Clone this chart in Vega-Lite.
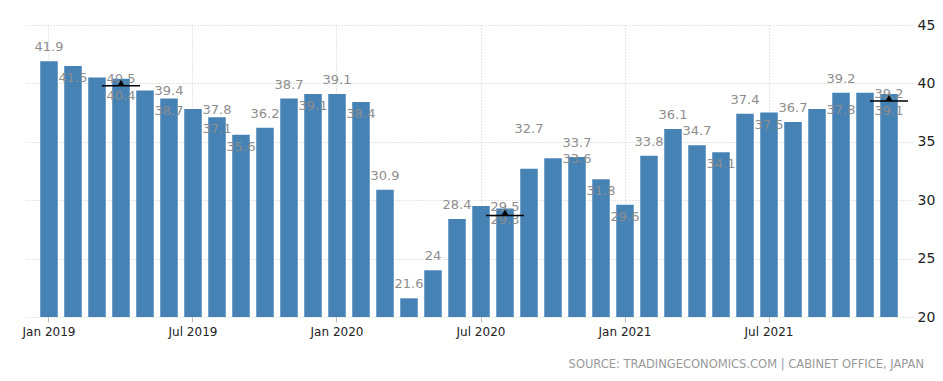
{
  "$schema": "https://vega.github.io/schema/vega-lite/v6.json",
  "width": 886,
  "height": 292,
  "padding": {"left": 22, "top": 18, "right": 0, "bottom": 0},
  "autosize": {"type": "pad"},
  "background": "white",
  "config": {"view": {"stroke": null}, "font": "DejaVu Sans"},
  "datasets": {
    "cc": [
      {"month": "2019-01", "value": 41.9}, {"month": "2019-02", "value": 41.5}, {"month": "2019-03", "value": 40.5},
      {"month": "2019-04", "value": 40.4}, {"month": "2019-05", "value": 39.4}, {"month": "2019-06", "value": 38.7},
      {"month": "2019-07", "value": 37.8}, {"month": "2019-08", "value": 37.1}, {"month": "2019-09", "value": 35.6},
      {"month": "2019-10", "value": 36.2}, {"month": "2019-11", "value": 38.7}, {"month": "2019-12", "value": 39.1},
      {"month": "2020-01", "value": 39.1}, {"month": "2020-02", "value": 38.4}, {"month": "2020-03", "value": 30.9},
      {"month": "2020-04", "value": 21.6}, {"month": "2020-05", "value": 24.0}, {"month": "2020-06", "value": 28.4},
      {"month": "2020-07", "value": 29.5}, {"month": "2020-08", "value": 29.3}, {"month": "2020-09", "value": 32.7},
      {"month": "2020-10", "value": 33.6}, {"month": "2020-11", "value": 33.7}, {"month": "2020-12", "value": 31.8},
      {"month": "2021-01", "value": 29.6}, {"month": "2021-02", "value": 33.8}, {"month": "2021-03", "value": 36.1},
      {"month": "2021-04", "value": 34.7}, {"month": "2021-05", "value": 34.1}, {"month": "2021-06", "value": 37.4},
      {"month": "2021-07", "value": 37.5}, {"month": "2021-08", "value": 36.7}, {"month": "2021-09", "value": 37.8},
      {"month": "2021-10", "value": 39.2}, {"month": "2021-11", "value": 39.2}, {"month": "2021-12", "value": 39.1}
    ],
    "markers": [
      {"month": "2019-04", "value": 40.4},
      {"month": "2020-08", "value": 29.3},
      {"month": "2021-12", "value": 39.1}
    ]
  },
  "title": {
    "text": "SOURCE: TRADINGECONOMICS.COM | CABINET OFFICE, JAPAN",
    "orient": "bottom",
    "anchor": "end",
    "frame": "group",
    "font": "DejaVu Sans",
    "fontSize": 11.5,
    "fontWeight": "normal",
    "color": "#999999",
    "offset": 22,
    "dx": 12
  },
  "encoding": {
    "x": {
      "field": "month",
      "type": "ordinal",
      "scale": {"paddingInner": 0.27, "paddingOuter": 0.593},
      "axis": {
        "title": null,
        "values": ["2019-01", "2019-07", "2020-01", "2020-07", "2021-01", "2021-07"],
        "labelExpr": "(substring(datum.value,5,7)=='01' ? 'Jan ' : 'Jul ') + substring(datum.value,0,4)",
        "labelAngle": 0,
        "labelFont": "DejaVu Sans",
        "labelFontSize": 12,
        "labelColor": "#222222",
        "labelPadding": 4,
        "bandPosition": 0.5,
        "grid": true,
        "gridColor": "#cccccc",
        "gridDash": [1, 2],
        "ticks": true,
        "tickSize": 5,
        "tickColor": "#bbbbbb",
        "domain": false
      }
    },
    "y": {
      "field": "value",
      "type": "quantitative",
      "scale": {"domain": [20, 45], "zero": false, "nice": false},
      "axis": {
        "orient": "right",
        "title": null,
        "values": [20, 25, 30, 35, 40, 45],
        "labelFont": "DejaVu Sans",
        "labelFontSize": 14,
        "labelColor": "#222222",
        "labelPadding": 5,
        "ticks": false,
        "domain": false,
        "grid": true,
        "gridColor": "#cccccc",
        "gridDash": [1, 2]
      }
    }
  },
  "layer": [
    {
      "data": {"name": "cc"},
      "mark": {"type": "bar", "color": "#4682B4"},
      "encoding": {"y2": {"datum": 20}}
    },
    {
      "data": {"name": "cc"},
      "transform": [{"filter": {"field": "month", "oneOf": ["2019-01", "2019-10", "2019-11", "2020-01", "2020-03", "2020-04", "2020-05", "2020-06", "2020-11", "2021-02", "2021-03", "2021-04", "2021-06", "2021-08", "2021-10"]}}],
      "mark": {"type": "text", "dy": -14, "baseline": "middle", "align": "center", "font": "DejaVu Sans", "fontSize": 13, "color": "#8e8e8e"},
      "encoding": {"text": {"field": "value", "type": "quantitative", "format": ".1~f"}}
    },
    {
      "data": {"name": "cc"},
      "transform": [{"filter": {"field": "month", "oneOf": ["2020-09"]}}],
      "mark": {"type": "text", "dy": -40, "baseline": "middle", "align": "center", "font": "DejaVu Sans", "fontSize": 13, "color": "#8e8e8e"},
      "encoding": {"text": {"field": "value", "type": "quantitative", "format": ".1~f"}}
    },
    {
      "data": {"name": "cc"},
      "transform": [{"filter": {"field": "month", "oneOf": ["2019-02", "2019-06", "2019-08", "2019-09", "2019-12", "2020-02", "2020-08", "2020-12", "2021-01", "2021-05", "2021-07"]}}],
      "mark": {"type": "text", "dy": 12, "baseline": "middle", "align": "center", "font": "DejaVu Sans", "fontSize": 13, "color": "#8e8e8e"},
      "encoding": {"text": {"field": "value", "type": "quantitative", "format": ".1~f"}}
    },
    {
      "data": {"name": "cc"},
      "transform": [{"filter": {"field": "month", "oneOf": ["2019-04", "2021-12"]}}],
      "mark": {"type": "text", "dy": 17, "baseline": "middle", "align": "center", "font": "DejaVu Sans", "fontSize": 13, "color": "#8e8e8e"},
      "encoding": {"text": {"field": "value", "type": "quantitative", "format": ".1~f"}}
    },
    {
      "data": {"name": "cc"},
      "transform": [{"filter": {"field": "month", "oneOf": ["2019-03", "2019-05", "2019-07", "2020-07", "2020-10", "2021-09", "2021-11"]}}],
      "mark": {"type": "text", "dx": 24, "dy": 1, "baseline": "middle", "align": "center", "font": "DejaVu Sans", "fontSize": 13, "color": "#8e8e8e"},
      "encoding": {"text": {"field": "value", "type": "quantitative", "format": ".1~f"}}
    },
    {
      "data": {"name": "markers"},
      "mark": {"type": "tick", "orient": "horizontal", "color": "black", "thickness": 1.5, "size": 38, "yOffset": 7, "opacity": 1}
    },
    {
      "data": {"name": "markers"},
      "mark": {"type": "point", "shape": "triangle-up", "filled": true, "color": "black", "size": 45, "yOffset": 4, "opacity": 1}
    }
  ]
}
